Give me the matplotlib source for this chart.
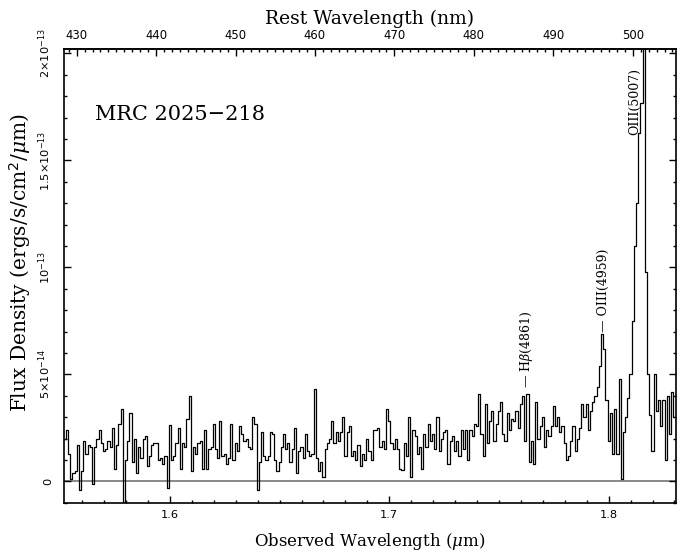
import numpy as np
import matplotlib.pyplot as plt
from matplotlib.ticker import MultipleLocator, FixedLocator, FixedFormatter, FormatStrFormatter

plt.rcParams['mathtext.fontset'] = 'custom'
plt.rcParams['mathtext.rm'] = 'DejaVu Sans'
plt.rcParams['mathtext.it'] = 'DejaVu Serif:italic'

z1 = 3.622      # 1+z for MRC 2025-218
wl0 = 1.552     # [um] first pixel
dwl = 0.001     # [um] pixel width

# flux density, units of 1e-14 ergs/s/cm^2/um
flux_a = [2.0, 2.4, 1.3, 0.1, 0.4, 0.5, 1.7, -0.4, 0.5, 1.9,
          1.3, 1.7, 1.6, -0.1, 1.6, 2.0, 2.4, 1.8, 1.4, 1.5,
          1.9, 1.6, 2.5, 0.6, 1.7, 2.7, 3.4, -1.3, 1.0, 1.9,
          3.2, 0.9, 2.0, 0.4, 1.6, 1.1, 2.0, 2.1, 0.7, 1.2,
          1.7, 1.8, 1.8, 1.0, 1.1, 0.8, 1.2, -0.3, 2.65, 1.0,
          1.2, 1.8, 2.5, 0.6, 1.8, 1.6, 2.9, 4.0, 0.5, 1.6,
          1.3, 1.8, 1.9, 0.6, 2.4, 0.6, 1.5, 1.6, 2.7, 1.5,
          1.1, 2.8, 1.2, 1.3, 0.8, 1.1, 2.7, 1.0, 1.8, 1.4,
          2.6, 2.2, 1.9, 2.0, 1.6, 1.5, 3.0, 2.7, -0.4, 0.9,
          2.3, 1.2, 1.0, 1.2, 2.3, 2.2, 1.0, 0.5, 0.9, 1.6]
flux_b = [2.2, 1.5, 1.8, 0.9, 1.5, 2.5, 0.4, 1.4, 1.6, 1.1,
          2.2, 1.4, 1.2, 1.3, 4.3, 1.1, 0.5, 0.9, 0.2, 1.5,
          1.8, 2.0, 2.8, 1.8, 2.3, 1.9, 2.3, 3.0, 1.2, 2.3,
          2.6, 1.2, 1.4, 1.0, 1.7, 0.7, 1.3, 1.0, 2.0, 1.4,
          1.0, 2.4, 2.4, 2.5, 1.6, 1.9, 1.5, 3.4, 2.8, 1.8,
          1.5, 2.0, 1.5, 0.6, 0.55, 1.8, 1.2, 3.0, 0.2, 2.4,
          2.1, 1.3, 1.6, 0.6, 2.2, 1.6, 2.7, 1.9, 2.2, 1.5,
          3.0, 1.4, 2.0, 2.3, 2.4, 0.8, 1.9, 2.1, 1.4, 1.9,
          1.2, 2.4, 1.5, 2.4, 1.0, 2.4, 2.1, 2.7, 2.6, 4.1,
          2.2, 1.2, 3.6, 1.8, 2.8, 3.3, 1.9, 2.7, 3.3, 3.7]
flux_c = [2.2, 1.9, 3.2, 2.4, 2.9, 2.8, 3.3, 2.5, 3.6, 4.0,
          1.9, 4.1, 0.9, 1.9, 0.8, 3.7, 2.0, 2.6, 3.0, 1.6,
          2.4, 2.1, 2.6, 3.5, 2.6, 3.0, 2.3, 2.6, 1.8, 1.0,
          1.2, 1.9, 2.6, 1.4, 2.0, 2.5, 3.6, 3.0, 3.6, 2.4,
          3.3, 3.7, 4.0, 4.4, 5.4, 6.9, 6.2, 3.8, 1.9, 3.2,
          1.3, 3.4, 1.3, 4.8, 0.1, 2.3, 3.0, 3.9, 5.0, 7.5,
          11.0, 13.0, 16.3, 17.7, 21.5, 9.8, 5.0, 3.1, 1.4, 5.0,
          3.3, 3.8, 2.6, 3.8, 1.0, 4.0, 2.2, 4.2, 3.0]

# emission line labels
line_names = ['\u2014 H$\\beta$(4861)', '\u2014 OIII(4959)', 'OIII(5007)']
line_x = [1.7626, 1.7977, 1.8118]      # [um]
line_y = [4.38e-14, 7.0e-14, 16.2e-14]  # bottom of label

ytick_vals = [0, 5e-14, 1e-13, 1.5e-13, 2e-13]
ytick_text = ['0', '5\u00d710$^{-14}$', '10$^{-13}$', '1.5\u00d710$^{-13}$', '2\u00d710$^{-13}$']
rest_ticks = [430, 440, 450, 460, 470, 480, 490, 500]   # [nm]

serif = 'DejaVu Serif'


def main():
    flux = np.array(flux_a + flux_b + flux_c) * 1e-14
    wl = wl0 + dwl * np.arange(len(flux))

    fig = plt.figure(figsize=(6.86, 5.52), dpi=100)
    ax = fig.add_axes([0.0933, 0.0888, 0.8921, 0.8225])

    ax.axhline(0, color='#7f7f7f', lw=1.3, zorder=1)
    ax.step(wl, flux, where='mid', color='black', lw=0.9, zorder=2)

    ax.set_xlim(1.5517, 1.8307)
    ax.set_ylim(-1.01e-14, 2.021e-13)

    # ticks, PGPLOT style (inward)
    ax.xaxis.set_major_locator(MultipleLocator(0.1))
    ax.xaxis.set_minor_locator(MultipleLocator(0.01))
    ax.xaxis.set_major_formatter(FormatStrFormatter('%.1f'))
    ax.yaxis.set_major_locator(FixedLocator(ytick_vals))
    ax.yaxis.set_major_formatter(FixedFormatter(ytick_text))
    ax.yaxis.set_minor_locator(MultipleLocator(1e-14))
    ax.tick_params(which='both', direction='in', top=False, right=True, width=1)
    ax.tick_params(which='major', length=5)
    ax.tick_params(which='minor', length=2.5)
    ax.tick_params(axis='x', labelsize=8.2, pad=5)
    ax.tick_params(axis='y', labelsize=8.2, pad=8, labelrotation=90)
    for t in ax.get_yticklabels():
        t.set_va('center')
    for s in ax.spines.values():
        s.set_linewidth(1.2)

    # rest frame axis on top
    secax = ax.secondary_xaxis('top', functions=(lambda x: x * 1000 / z1, lambda r: r * z1 / 1000))
    secax.xaxis.set_major_locator(FixedLocator(rest_ticks))
    secax.xaxis.set_minor_locator(MultipleLocator(1))
    secax.tick_params(which='both', direction='in', width=1, labelsize=8.4, pad=5)
    secax.tick_params(which='major', length=5)
    secax.tick_params(which='minor', length=2.5)
    secax.spines['top'].set_linewidth(1.2)
    secax.set_xlabel('Rest Wavelength (nm)', fontfamily=serif, fontsize=13.5)
    secax.xaxis.set_label_coords(0.5, 1.055, transform=ax.transAxes)

    ax.set_xlabel('Observed Wavelength ($\\mu$m)', fontfamily=serif, fontsize=12)
    ax.xaxis.set_label_coords(0.5, -0.062)
    ax.set_ylabel('Flux Density (ergs/s/cm$^2$/$\\mu$m)', fontfamily=serif, fontsize=14.5)
    ax.yaxis.set_label_coords(-0.05, 0.53)

    ax.text(0.0507, 0.855, 'MRC 2025\u2212218', transform=ax.transAxes,
            fontfamily=serif, fontsize=15, va='center', ha='left')

    for name, x, y in zip(line_names, line_x, line_y):
        ax.text(x, y, name, rotation=90, ha='center', va='bottom',
                fontfamily=serif, fontsize=9)

    fig.savefig('out.png', dpi=100)


if __name__ == "__main__":
    main()
